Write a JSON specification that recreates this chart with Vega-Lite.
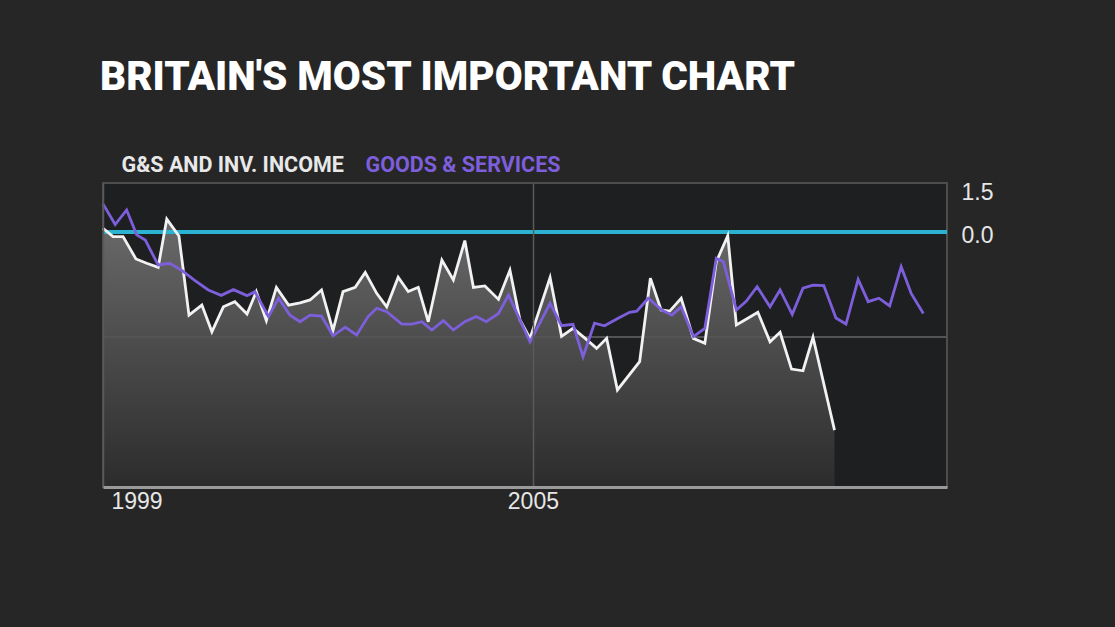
{
  "$schema": "https://vega.github.io/schema/vega-lite/v6.json",
  "width": 844,
  "height": 304,
  "autosize": {"type": "none"},
  "padding": {"left": 103, "top": 183, "right": 168, "bottom": 140},
  "background": "#262626",
  "title": {
    "text": "BRITAIN'S MOST IMPORTANT CHART",
    "anchor": "start",
    "frame": "group",
    "orient": "top",
    "offset": 25,
    "dx": -3,
    "baseline": "alphabetic",
    "font": "Roboto",
    "fontSize": 40.5,
    "fontWeight": 900,
    "color": "#ffffff"
  },
  "config": {
    "view": {"fill": "#1e1f21", "stroke": "#4d4d4d", "strokeWidth": 2},
    "axis": {
      "labelFont": "Liberation Sans",
      "labelFontSize": 23,
      "labelColor": "#e6e6e6",
      "ticks": false,
      "title": null
    }
  },
  "data": {
    "values": [
      {"date": 1999.00, "series": "G&S AND INV. INCOME", "value": 0.13},
      {"date": 1999.14, "series": "G&S AND INV. INCOME", "value": -0.16},
      {"date": 1999.28, "series": "G&S AND INV. INCOME", "value": -0.16},
      {"date": 1999.46, "series": "G&S AND INV. INCOME", "value": -0.94},
      {"date": 1999.61, "series": "G&S AND INV. INCOME", "value": -1.09},
      {"date": 1999.77, "series": "G&S AND INV. INCOME", "value": -1.23},
      {"date": 1999.89, "series": "G&S AND INV. INCOME", "value": 0.45},
      {"date": 2000.06, "series": "G&S AND INV. INCOME", "value": -0.14},
      {"date": 2000.20, "series": "G&S AND INV. INCOME", "value": -2.90},
      {"date": 2000.38, "series": "G&S AND INV. INCOME", "value": -2.55},
      {"date": 2000.52, "series": "G&S AND INV. INCOME", "value": -3.48},
      {"date": 2000.68, "series": "G&S AND INV. INCOME", "value": -2.61},
      {"date": 2000.84, "series": "G&S AND INV. INCOME", "value": -2.43},
      {"date": 2001.01, "series": "G&S AND INV. INCOME", "value": -2.86},
      {"date": 2001.14, "series": "G&S AND INV. INCOME", "value": -2.08},
      {"date": 2001.28, "series": "G&S AND INV. INCOME", "value": -3.09},
      {"date": 2001.42, "series": "G&S AND INV. INCOME", "value": -1.93},
      {"date": 2001.59, "series": "G&S AND INV. INCOME", "value": -2.55},
      {"date": 2001.75, "series": "G&S AND INV. INCOME", "value": -2.47},
      {"date": 2001.89, "series": "G&S AND INV. INCOME", "value": -2.37},
      {"date": 2002.05, "series": "G&S AND INV. INCOME", "value": -2.02},
      {"date": 2002.21, "series": "G&S AND INV. INCOME", "value": -3.44},
      {"date": 2002.35, "series": "G&S AND INV. INCOME", "value": -2.08},
      {"date": 2002.52, "series": "G&S AND INV. INCOME", "value": -1.93},
      {"date": 2002.66, "series": "G&S AND INV. INCOME", "value": -1.41},
      {"date": 2002.82, "series": "G&S AND INV. INCOME", "value": -2.14},
      {"date": 2002.96, "series": "G&S AND INV. INCOME", "value": -2.61},
      {"date": 2003.12, "series": "G&S AND INV. INCOME", "value": -1.58},
      {"date": 2003.26, "series": "G&S AND INV. INCOME", "value": -2.08},
      {"date": 2003.40, "series": "G&S AND INV. INCOME", "value": -1.93},
      {"date": 2003.54, "series": "G&S AND INV. INCOME", "value": -3.13},
      {"date": 2003.73, "series": "G&S AND INV. INCOME", "value": -0.98},
      {"date": 2003.89, "series": "G&S AND INV. INCOME", "value": -1.67},
      {"date": 2004.05, "series": "G&S AND INV. INCOME", "value": -0.30},
      {"date": 2004.17, "series": "G&S AND INV. INCOME", "value": -1.93},
      {"date": 2004.33, "series": "G&S AND INV. INCOME", "value": -1.88},
      {"date": 2004.52, "series": "G&S AND INV. INCOME", "value": -2.35},
      {"date": 2004.68, "series": "G&S AND INV. INCOME", "value": -1.33},
      {"date": 2004.82, "series": "G&S AND INV. INCOME", "value": -3.07},
      {"date": 2004.96, "series": "G&S AND INV. INCOME", "value": -3.71},
      {"date": 2005.24, "series": "G&S AND INV. INCOME", "value": -1.59},
      {"date": 2005.40, "series": "G&S AND INV. INCOME", "value": -3.64},
      {"date": 2005.56, "series": "G&S AND INV. INCOME", "value": -3.36},
      {"date": 2005.73, "series": "G&S AND INV. INCOME", "value": -3.71},
      {"date": 2005.89, "series": "G&S AND INV. INCOME", "value": -4.06},
      {"date": 2006.03, "series": "G&S AND INV. INCOME", "value": -3.71},
      {"date": 2006.18, "series": "G&S AND INV. INCOME", "value": -5.51},
      {"date": 2006.49, "series": "G&S AND INV. INCOME", "value": -4.52},
      {"date": 2006.64, "series": "G&S AND INV. INCOME", "value": -1.61},
      {"date": 2006.79, "series": "G&S AND INV. INCOME", "value": -2.72},
      {"date": 2006.91, "series": "G&S AND INV. INCOME", "value": -2.76},
      {"date": 2007.07, "series": "G&S AND INV. INCOME", "value": -2.31},
      {"date": 2007.24, "series": "G&S AND INV. INCOME", "value": -3.71},
      {"date": 2007.40, "series": "G&S AND INV. INCOME", "value": -3.88},
      {"date": 2007.56, "series": "G&S AND INV. INCOME", "value": -1.04},
      {"date": 2007.72, "series": "G&S AND INV. INCOME", "value": -0.13},
      {"date": 2007.84, "series": "G&S AND INV. INCOME", "value": -3.24},
      {"date": 2008.00, "series": "G&S AND INV. INCOME", "value": -3.01},
      {"date": 2008.14, "series": "G&S AND INV. INCOME", "value": -2.80},
      {"date": 2008.31, "series": "G&S AND INV. INCOME", "value": -3.83},
      {"date": 2008.45, "series": "G&S AND INV. INCOME", "value": -3.50},
      {"date": 2008.61, "series": "G&S AND INV. INCOME", "value": -4.78},
      {"date": 2008.77, "series": "G&S AND INV. INCOME", "value": -4.84},
      {"date": 2008.91, "series": "G&S AND INV. INCOME", "value": -3.67},
      {"date": 2009.21, "series": "G&S AND INV. INCOME", "value": -6.91},
      {"date": 1999.00, "series": "GOODS & SERVICES", "value": 0.98},
      {"date": 1999.17, "series": "GOODS & SERVICES", "value": 0.26},
      {"date": 1999.33, "series": "GOODS & SERVICES", "value": 0.77},
      {"date": 1999.47, "series": "GOODS & SERVICES", "value": -0.10},
      {"date": 1999.59, "series": "GOODS & SERVICES", "value": -0.28},
      {"date": 1999.77, "series": "GOODS & SERVICES", "value": -1.15},
      {"date": 1999.93, "series": "GOODS & SERVICES", "value": -1.09},
      {"date": 2000.10, "series": "GOODS & SERVICES", "value": -1.34},
      {"date": 2000.27, "series": "GOODS & SERVICES", "value": -1.67},
      {"date": 2000.47, "series": "GOODS & SERVICES", "value": -2.02},
      {"date": 2000.65, "series": "GOODS & SERVICES", "value": -2.21},
      {"date": 2000.82, "series": "GOODS & SERVICES", "value": -2.01},
      {"date": 2001.01, "series": "GOODS & SERVICES", "value": -2.22},
      {"date": 2001.12, "series": "GOODS & SERVICES", "value": -2.08},
      {"date": 2001.31, "series": "GOODS & SERVICES", "value": -2.95},
      {"date": 2001.45, "series": "GOODS & SERVICES", "value": -2.31},
      {"date": 2001.61, "series": "GOODS & SERVICES", "value": -2.90},
      {"date": 2001.75, "series": "GOODS & SERVICES", "value": -3.13},
      {"date": 2001.89, "series": "GOODS & SERVICES", "value": -2.90},
      {"date": 2002.05, "series": "GOODS & SERVICES", "value": -2.93},
      {"date": 2002.21, "series": "GOODS & SERVICES", "value": -3.62},
      {"date": 2002.38, "series": "GOODS & SERVICES", "value": -3.32},
      {"date": 2002.54, "series": "GOODS & SERVICES", "value": -3.59},
      {"date": 2002.70, "series": "GOODS & SERVICES", "value": -2.95},
      {"date": 2002.82, "series": "GOODS & SERVICES", "value": -2.66},
      {"date": 2002.96, "series": "GOODS & SERVICES", "value": -2.78},
      {"date": 2003.17, "series": "GOODS & SERVICES", "value": -3.21},
      {"date": 2003.31, "series": "GOODS & SERVICES", "value": -3.21},
      {"date": 2003.45, "series": "GOODS & SERVICES", "value": -3.13},
      {"date": 2003.59, "series": "GOODS & SERVICES", "value": -3.42},
      {"date": 2003.75, "series": "GOODS & SERVICES", "value": -3.09},
      {"date": 2003.89, "series": "GOODS & SERVICES", "value": -3.42},
      {"date": 2004.05, "series": "GOODS & SERVICES", "value": -3.13},
      {"date": 2004.21, "series": "GOODS & SERVICES", "value": -2.95},
      {"date": 2004.35, "series": "GOODS & SERVICES", "value": -3.13},
      {"date": 2004.52, "series": "GOODS & SERVICES", "value": -2.84},
      {"date": 2004.66, "series": "GOODS & SERVICES", "value": -2.20},
      {"date": 2004.82, "series": "GOODS & SERVICES", "value": -3.07},
      {"date": 2004.96, "series": "GOODS & SERVICES", "value": -3.83},
      {"date": 2005.24, "series": "GOODS & SERVICES", "value": -2.49},
      {"date": 2005.40, "series": "GOODS & SERVICES", "value": -3.27},
      {"date": 2005.56, "series": "GOODS & SERVICES", "value": -3.22},
      {"date": 2005.70, "series": "GOODS & SERVICES", "value": -4.35},
      {"date": 2005.86, "series": "GOODS & SERVICES", "value": -3.18},
      {"date": 2006.00, "series": "GOODS & SERVICES", "value": -3.27},
      {"date": 2006.19, "series": "GOODS & SERVICES", "value": -3.01},
      {"date": 2006.35, "series": "GOODS & SERVICES", "value": -2.80},
      {"date": 2006.45, "series": "GOODS & SERVICES", "value": -2.76},
      {"date": 2006.61, "series": "GOODS & SERVICES", "value": -2.31},
      {"date": 2006.80, "series": "GOODS & SERVICES", "value": -2.72},
      {"date": 2006.94, "series": "GOODS & SERVICES", "value": -2.90},
      {"date": 2007.07, "series": "GOODS & SERVICES", "value": -2.61},
      {"date": 2007.24, "series": "GOODS & SERVICES", "value": -3.65},
      {"date": 2007.40, "series": "GOODS & SERVICES", "value": -3.36},
      {"date": 2007.56, "series": "GOODS & SERVICES", "value": -0.92},
      {"date": 2007.66, "series": "GOODS & SERVICES", "value": -1.04},
      {"date": 2007.84, "series": "GOODS & SERVICES", "value": -2.72},
      {"date": 2007.98, "series": "GOODS & SERVICES", "value": -2.41},
      {"date": 2008.13, "series": "GOODS & SERVICES", "value": -1.91},
      {"date": 2008.31, "series": "GOODS & SERVICES", "value": -2.61},
      {"date": 2008.45, "series": "GOODS & SERVICES", "value": -2.02},
      {"date": 2008.62, "series": "GOODS & SERVICES", "value": -2.87},
      {"date": 2008.77, "series": "GOODS & SERVICES", "value": -1.96},
      {"date": 2008.91, "series": "GOODS & SERVICES", "value": -1.85},
      {"date": 2009.06, "series": "GOODS & SERVICES", "value": -1.87},
      {"date": 2009.23, "series": "GOODS & SERVICES", "value": -3.00},
      {"date": 2009.37, "series": "GOODS & SERVICES", "value": -3.21},
      {"date": 2009.54, "series": "GOODS & SERVICES", "value": -1.65},
      {"date": 2009.68, "series": "GOODS & SERVICES", "value": -2.43},
      {"date": 2009.83, "series": "GOODS & SERVICES", "value": -2.31},
      {"date": 2009.98, "series": "GOODS & SERVICES", "value": -2.58},
      {"date": 2010.14, "series": "GOODS & SERVICES", "value": -1.21},
      {"date": 2010.28, "series": "GOODS & SERVICES", "value": -2.14},
      {"date": 2010.45, "series": "GOODS & SERVICES", "value": -2.84}
    ]
  },
  "layer": [
    {
      "transform": [{"filter": "datum.series === 'G&S AND INV. INCOME'"}],
      "mark": {
        "type": "area",
        "color": {
          "gradient": "linear",
          "x1": 0, "y1": 0, "x2": 0, "y2": 1,
          "stops": [
            {"offset": 0, "color": "#6a6a6a"},
            {"offset": 0.4, "color": "#505050"},
            {"offset": 1, "color": "#2c2c2d"}
          ]
        }
      },
      "encoding": {
        "x": {
          "field": "date",
          "type": "quantitative",
          "scale": {"domain": [1999, 2010.78], "nice": false, "zero": false},
          "axis": {
            "values": [1999, 2005],
            "format": "d",
            "labelFlush": true,
            "labelFlushOffset": -8,
            "labelPadding": 3,
            "grid": true,
            "gridColor": "#5a5a5a",
            "gridWidth": 1.5,
            "domainColor": "#9a9a9a",
            "domainWidth": 3,
            "zindex": 1
          }
        },
        "y": {
          "field": "value",
          "type": "quantitative",
          "scale": {"domain": [-8.894, 1.709], "nice": false, "zero": false},
          "axis": {
            "orient": "right",
            "values": [1.5, 0],
            "format": ".1f",
            "grid": false,
            "domain": false,
            "labelPadding": 14,
            "labelOffset": 4
          }
        },
        "y2": {"datum": -8.894}
      }
    },
    {
      "mark": {"type": "rule", "color": "#555555", "strokeWidth": 1.5},
      "encoding": {"y": {"datum": -3.66, "type": "quantitative"}}
    },
    {
      "mark": {"type": "rule", "color": "#2bb3d1", "strokeWidth": 3.5},
      "encoding": {"y": {"datum": 0, "type": "quantitative"}}
    },
    {
      "mark": {"type": "line", "strokeWidth": 2.8},
      "encoding": {
        "x": {"field": "date", "type": "quantitative"},
        "y": {"field": "value", "type": "quantitative"},
        "color": {
          "field": "series",
          "type": "nominal",
          "scale": {
            "domain": ["G&S AND INV. INCOME", "GOODS & SERVICES"],
            "range": ["#f2f2f2", "#7d5fdc"]
          },
          "legend": {
            "orient": "none",
            "legendX": -3,
            "legendY": -28,
            "direction": "horizontal",
            "title": null,
            "padding": 0,
            "symbolSize": 0,
            "symbolStrokeWidth": 0,
            "symbolOpacity": 0,
            "labelOffset": 0,
            "columnPadding": -7,
            "labelFont": "Roboto",
            "labelFontSize": 21.5,
            "labelFontWeight": 700,
            "labelLimit": 400,
            "encode": {
              "labels": {
                "update": {
                  "fill": {"signal": "datum.value === 'GOODS & SERVICES' ? '#7d5fdc' : '#e8e8e8'"}
                }
              }
            }
          }
        }
      }
    }
  ]
}
